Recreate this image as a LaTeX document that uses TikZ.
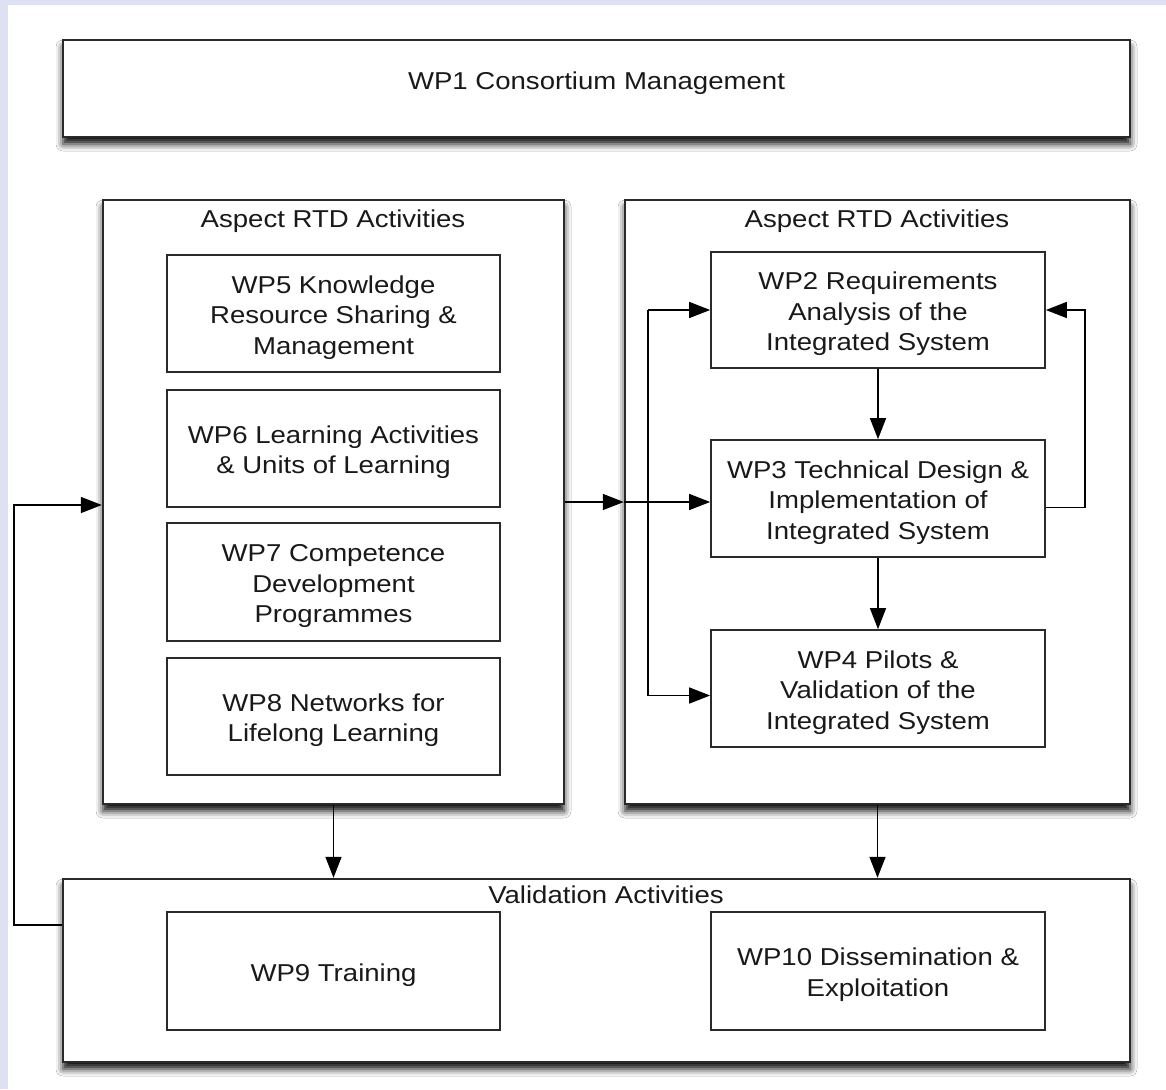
\documentclass[tikz,border=0pt]{standalone}
\usepackage{fontspec}
\setmainfont{Liberation Sans}[FakeStretch=1.13]
\usetikzlibrary{arrows.meta,shadows.blur,calc}
\definecolor{bgblue}{HTML}{DDE1F1}
\definecolor{edge}{HTML}{2A2A2A}
\newcommand{\wpt}[2][-4pt]{\raisebox{#1}[\height][\depth]{\begin{tabular}{@{}c@{}}#2\end{tabular}}}
\begin{document}
\begin{tikzpicture}[x=1pt,y=-1pt,
  every node/.style={font=\fontsize{24.4}{30.5}\selectfont, align=center, inner sep=0pt, text=black!90},
  outerbox/.style={draw=edge, line width=2.4pt, fill=white, rectangle,
     blur shadow={shadow xshift=0pt, shadow yshift=-7pt, shadow blur radius=7pt, shadow opacity=95}},
  wpbox/.style={draw=edge, line width=1.7pt, fill=white, rectangle, minimum width=333pt, minimum height=117pt},
  grouptitle/.style={anchor=center},
  arr/.style={draw=black, line width=1.5pt, -{Triangle[length=21pt,width=16pt]}},
  conn/.style={draw=black, line width=1.5pt}]
\useasboundingbox (0,0) rectangle (1166,1089);
\fill[bgblue] (0,0) rectangle (1166,1089);
\fill[white] (8,5) rectangle (1166,1089);

% outer boxes
\node[outerbox, minimum width=1067pt, minimum height=97pt] (wp1) at (596.5,88.5) {\wpt[5pt]{WP1 Consortium Management}};
\node[outerbox, minimum width=461pt, minimum height=604pt] (leftgrp) at (333.5,502) {};
\node[outerbox, minimum width=505pt, minimum height=604pt] (rightgrp) at (877.5,502) {};
\node[outerbox, minimum width=1067pt, minimum height=183pt] (valid) at (596.5,970.5) {};

% titles
\node[grouptitle] (ltitle) at (333,218) {\wpt[-3pt]{Aspect RTD Activities}};
\node[grouptitle] (rtitle) at (877,218) {\wpt[-3pt]{Aspect RTD Activities}};
\node[grouptitle] (vtitle) at (606,894) {\wpt[-3pt]{Validation Activities}};

% left inner boxes
\node[wpbox] (wp5) at (333.5,313.5) {\wpt{WP5 Knowledge\\Resource Sharing \&\\Management}};
\node[wpbox] (wp6) at (333.5,448.5) {\wpt{WP6 Learning Activities\\\& Units of Learning}};
\node[wpbox, minimum height=118pt] (wp7) at (333.5,582) {\wpt{WP7 Competence\\Development\\Programmes}};
\node[wpbox] (wp8) at (333.5,716.5) {\wpt{WP8 Networks for\\Lifelong Learning}};

% right inner boxes
\node[wpbox, minimum width=334pt, minimum height=116pt] (wp2) at (878,310) {\wpt{WP2 Requirements\\Analysis of the\\Integrated System}};
\node[wpbox, minimum width=334pt] (wp3) at (878,498.5) {\wpt{WP3 Technical Design \&\\Implementation of\\Integrated System}};
\node[wpbox, minimum width=334pt] (wp4) at (878,688.5) {\wpt{WP4 Pilots \&\\Validation of the\\Integrated System}};

% validation inner boxes
\node[wpbox, minimum height=118pt] (wp9) at (333.5,971) {\wpt{WP9 Training}};
\node[wpbox, minimum width=334pt, minimum height=118pt] (wp10) at (878,971) {\wpt{WP10 Dissemination \&\\Exploitation}};

% connectors
\draw[arr] (leftgrp.east) -- (rightgrp.west);
\coordinate (spine) at (648,0);
\draw[arr] (rightgrp.west) -- (rightgrp.west -| wp3.west);
\draw[conn] (spine |- wp2.west) -- ([yshift=-7pt]spine |- wp4.west);
\draw[arr] (spine |- wp2.west) -- (wp2.west);
\draw[arr] ([yshift=-7pt]spine |- wp4.west) -- ([yshift=-7pt]wp4.west);
\draw[arr] (wp2.south) -- (wp3.north);
\draw[arr] (wp3.south) -- (wp4.north);
\coordinate (fbr) at (1085,0);
\draw[arr] ([yshift=-9pt]wp3.east) -- ([yshift=-9pt]fbr |- wp3.east) |- (wp2.east);
\draw[arr] (leftgrp.south) -- (leftgrp.south |- valid.north);
\draw[arr] (rightgrp.south) -- (rightgrp.south |- valid.north);
\coordinate (fbl) at (14,925);
\draw[arr] (valid.west |- fbl) -- (fbl) |- ([yshift=-3pt]leftgrp.west);
\end{tikzpicture}
\end{document}
